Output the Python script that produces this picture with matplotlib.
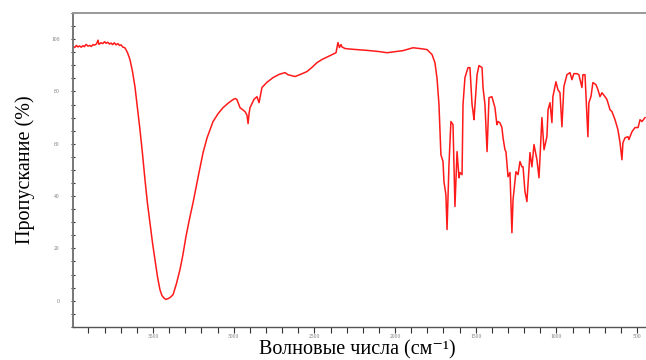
import numpy as np
import matplotlib; matplotlib.use("Agg"); import matplotlib.pyplot as plt
from matplotlib.ticker import MultipleLocator

plt.rcParams.update({"font.family": ["Liberation Serif", "DejaVu Serif"],
    "mathtext.fontset": "stix"})

# IR spectrum: wavenumber (cm^-1) and transmittance (%)
wavenumber = [3996, 3985, 3975, 3965, 3955, 3945, 3934, 3925, 3915, 3903, 3893, 3882,
    3872, 3862, 3850, 3841, 3835, 3822, 3812, 3800, 3791, 3780, 3770, 3760, 3750, 3740,
    3729, 3718, 3708, 3698, 3688, 3673, 3658, 3643, 3627, 3612, 3597, 3581, 3565, 3550,
    3535, 3519, 3503, 3488, 3472, 3457, 3445, 3432, 3420, 3407, 3395, 3376, 3355, 3333,
    3315, 3296, 3275, 3252, 3220, 3190, 3165, 3128, 3097, 3066, 3035, 3004, 2990, 2980,
    2961, 2930, 2918, 2911, 2905, 2899, 2874, 2856, 2843, 2825, 2794, 2756, 2719, 2682,
    2664, 2620, 2583, 2546, 2515, 2484, 2453, 2416, 2366, 2354, 2345, 2335, 2329, 2310,
    2279, 2217, 2156, 2094, 2050, 2001, 1951, 1889, 1846, 1802, 1771, 1753, 1740, 1728,
    1716, 1703, 1697, 1685, 1678, 1666, 1654, 1641, 1629, 1616, 1604, 1598, 1585, 1579,
    1567, 1548, 1536, 1523, 1517, 1511, 1492, 1480, 1461, 1455, 1443, 1430, 1418, 1400,
    1381, 1369, 1362, 1350, 1338, 1331, 1319, 1313, 1300, 1288, 1276, 1269, 1251, 1238,
    1226, 1214, 1207, 1195, 1183, 1164, 1152, 1139, 1121, 1108, 1090, 1077, 1059, 1052,
    1040, 1028, 1022, 1003, 991, 978, 966, 954, 935, 916, 904, 892, 873, 861, 842, 836,
    823, 805, 799, 786, 774, 755, 743, 730, 718, 699, 687, 668, 656, 637, 619, 606, 594,
    588, 575, 557, 551, 532, 513, 494, 482, 470, 451]
transmittance = [97.2, 96.8, 97.6, 97.0, 97.4, 96.9, 97.5, 97.1, 98.0, 97.3, 97.6, 97.2,
    97.9, 97.7, 98.2, 99.6, 98.0, 98.6, 98.3, 99.0, 98.4, 98.8, 98.1, 98.5, 97.9, 98.6,
    97.8, 98.3, 97.6, 97.8, 97.0, 96.6, 94.8, 92.2, 87.5, 81.8, 74.0, 65.4, 56.0, 46.3,
    37.5, 29.8, 22.0, 15.7, 9.0, 4.2, 2.0, 1.0, 0.5, 0.8, 1.2, 2.3, 6.5, 11.9,
    17.5, 24.5, 31.0, 37.5, 47.5, 56.6, 62.3, 68.5, 71.5, 73.8, 75.5, 76.9, 77.3, 76.9,
    73.8, 72.3, 71.0, 67.7, 71.5, 73.8, 77.0, 78.0, 75.7, 81.5, 83.5, 85.3, 86.5, 87.2,
    86.4, 85.7, 86.6, 87.6, 89.2, 91.0, 92.2, 93.3, 94.8, 98.7, 96.8, 97.9, 97.0, 96.4,
    96.2, 95.9, 95.6, 95.2, 94.8, 95.2, 95.6, 96.7, 96.4, 96.0, 94.1, 91.0, 85.0, 75.0,
    55.8, 53.2, 45.5, 40.5, 27.2, 52.0, 68.5, 67.3, 36.0, 57.0, 47.0, 49.0, 48.2, 75.0,
    85.3, 89.1, 89.1, 75.0, 72.3, 69.2, 86.4, 89.9, 89.1, 81.5, 75.0, 57.0, 77.6, 78.0,
    73.8, 67.3, 68.5, 68.0, 66.2, 62.3, 57.7, 57.0, 47.4, 49.0, 26.0, 38.6, 49.3, 48.2,
    53.2, 51.2, 51.2, 41.7, 37.9, 56.6, 51.2, 59.7, 53.9, 47.0, 70.0, 57.7, 62.7, 73.0,
    75.7, 68.1, 78.0, 83.7, 80.7, 79.5, 66.5, 81.8, 86.4, 87.2, 84.5, 86.8, 86.8, 86.4, 81.5, 86.4,
    86.4, 62.7, 75.7, 78.0, 83.4, 82.6, 80.7, 78.0, 79.5, 78.0, 76.9, 73.0, 72.3, 69.2, 65.4, 60.4, 53.9,
    60.4, 62.3, 62.7, 61.6, 64.6, 66.2, 66.2, 69.2, 68.5, 70.0]

fig = plt.figure(figsize=(6.46, 3.6), dpi=100)
ax = fig.add_axes([0.113, 0.092, 0.887, 0.872])
ax.plot(wavenumber, transmittance, color="#ff1a1a", lw=1.1)
ax.set_xlim(3996, 445)
ax.set_ylim(-10, 110)

ax.xaxis.set_major_locator(MultipleLocator(500))
ax.xaxis.set_minor_locator(MultipleLocator(100))
ax.yaxis.set_major_locator(MultipleLocator(20))
ax.yaxis.set_minor_locator(MultipleLocator(5))
ax.tick_params(axis="x", which="both", direction="out", length=4, width=0.8,
               color="#333333", labelsize=4, labelcolor="#777777", pad=1.2)
ax.tick_params(axis="y", which="both", direction="inout", length=3, width=0.8,
               color="#333333", labelsize=4, labelcolor="#777777", pad=8)

ax.spines["right"].set_visible(False)
ax.spines["top"].set_color("#999999")
ax.spines["top"].set_linewidth(1.4)
ax.spines["left"].set_color("#777777")
ax.spines["left"].set_linewidth(1.4)
ax.spines["bottom"].set_color("#555555")
ax.spines["bottom"].set_linewidth(1.0)

ax.set_ylabel("Пропускание (%)", fontsize=14.5, labelpad=12)
fig.text(0.553, 0.029, "Волновые числа (см⁻¹)", fontsize=14.5,
         ha="center", va="center")

fig.savefig("out.png", dpi=100)
